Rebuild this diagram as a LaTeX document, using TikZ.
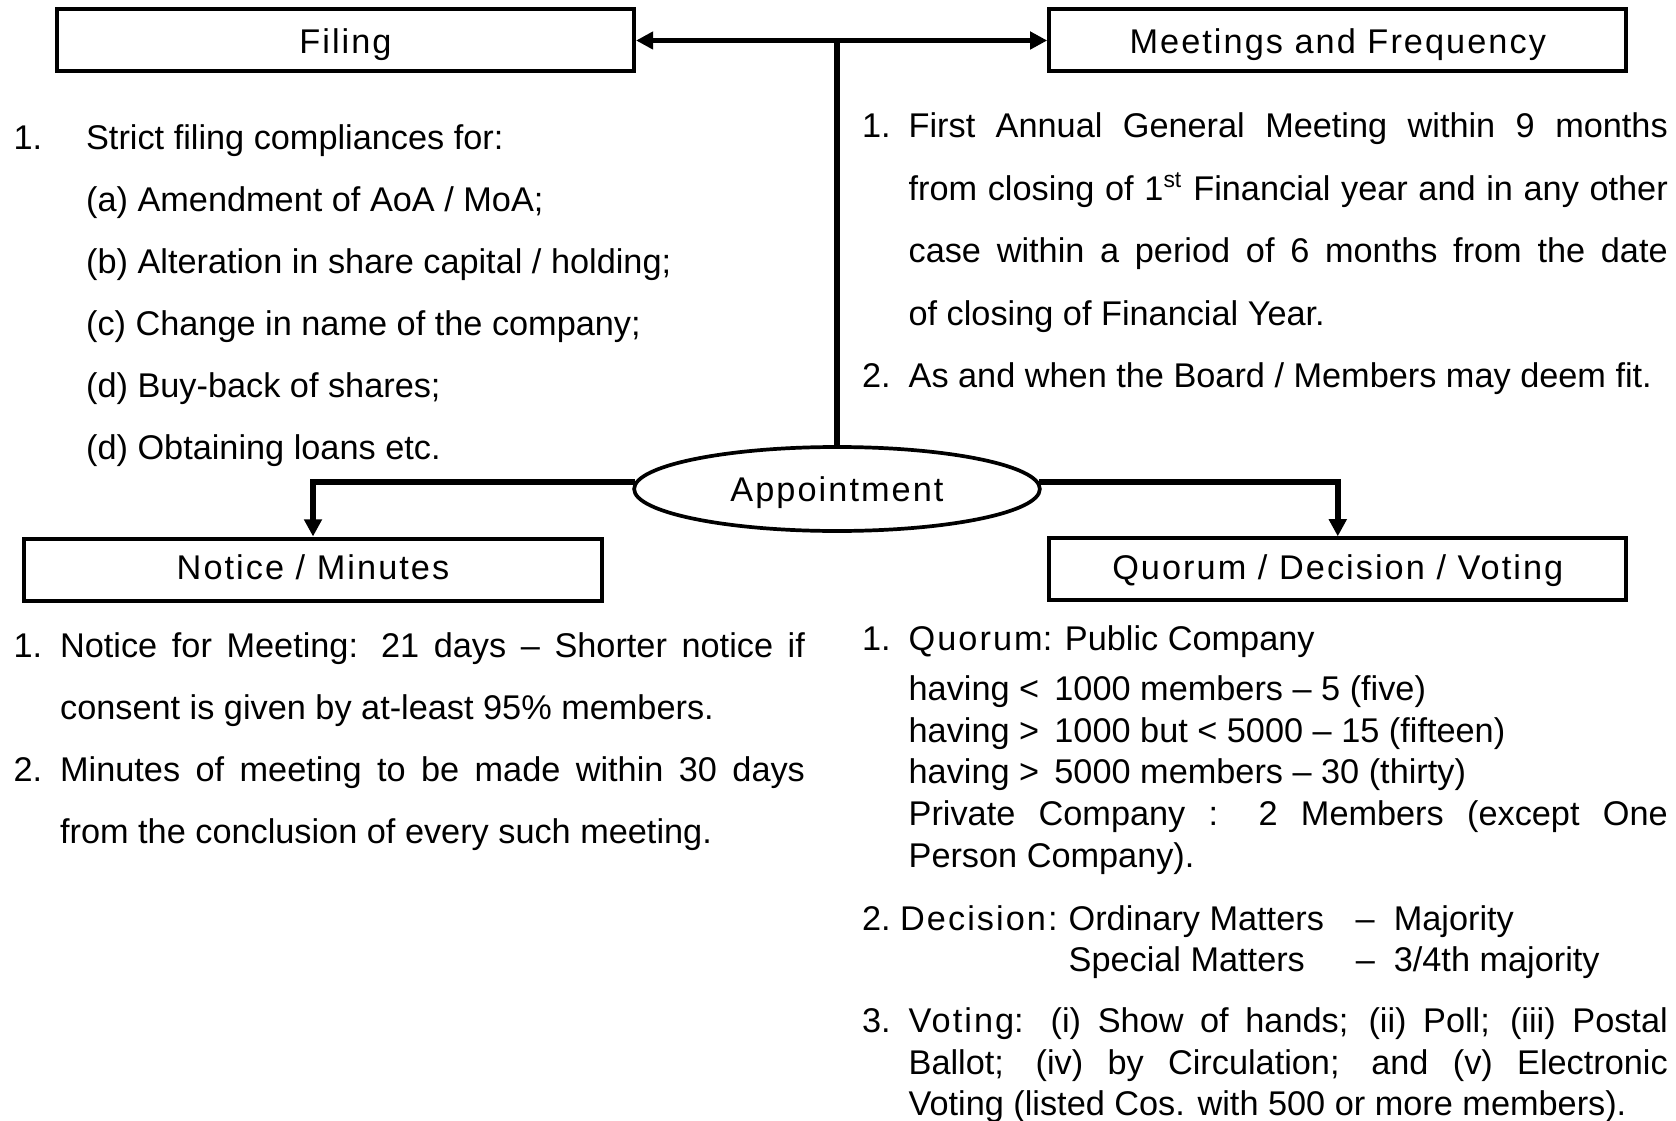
\documentclass[tikz,border=0pt]{standalone}
\usepackage{fontspec}
\setmainfont{Liberation Sans}
\newfontfamily\spacedfont{Liberation Sans}[LetterSpace=6]
\usetikzlibrary{positioning, shapes.geometric, arrows.meta}
\newlength{\numwd}\setlength{\numwd}{16.3pt}
\newcommand{\numitem}[1]{\hangindent=\numwd\hangafter=1\noindent\makebox[\numwd][l]{#1}}

\begin{document}
\begin{tikzpicture}[x=0.35pt, y=-0.35pt, >={Triangle[length=6pt, width=6pt]},
		hdr/.style={draw, line width=1.4pt, minimum width=202pt, minimum height=21.7pt, inner sep=0pt, text height=8.8pt, font=\spacedfont\fontsize{12}{14}\selectfont},
		oval/.style={ellipse, draw, line width=1.3pt, minimum width=142pt, minimum height=29.4pt, inner sep=0pt, text depth=0pt, font=\spacedfont\fontsize{12}{14}\selectfont},
		wire/.style={line width=2pt},
		txt/.style={anchor=base west, inner sep=0pt, align=justify, font=\fontsize{12}{21.7}\selectfont}]
		\useasboundingbox (0,0) rectangle (1676,1121);
		\node[oval] (appt) at (837,489) {Appointment};
		\node[hdr, text depth=0pt] (filing) at (345.5,40.5) {Filing}; \node[hdr, text depth=0pt] (meet) [right=143.9pt of filing] {Meetings and Frequency};
		\node[hdr, text depth=1.7pt] (notice) at (313,569.5) {Notice / Minutes}; \node[hdr, text depth=1.7pt] (quorum) [below=162pt of meet] {Quorum / Decision / Voting};
		\coordinate (hub) at (appt.north |- filing.east);
		\draw[wire] (appt.north) -- (hub);
		\draw[wire, <->] (filing) -- (meet);
		\draw[wire, ->] (appt.178) -| (notice.north);
		\draw[wire, ->] (appt.2) -| (quorum.north);
		\node[txt, text width=260pt] (filetxt) at (13,150) {\makebox[25.4pt][l]{1.}Strict filing compliances for:\\
			\hspace*{25.4pt}(a) Amendment of AoA / MoA;\\ \hspace*{25.4pt}(b) Alteration in share capital / holding;\\
			\hspace*{25.4pt}(c) Change in name of the company;\\ \hspace*{25.4pt}(d) Buy-back of shares;\\ \hspace*{25.4pt}(d) Obtaining loans etc.};
		\node[txt, text width=282pt, font=\fontsize{12}{21.85}\selectfont] (meettxt) at (861.5,138) {\numitem{1.}First Annual General Meeting within 9 months\linebreak from closing of 1\textsuperscript{st} Financial year and in any other\linebreak case within a period of 6 months from the date\linebreak of closing of Financial Year.\par
			\numitem{2.}As and when the Board / Members may deem fit.\par};
		\node[txt, text width=277pt] (noticetxt) at (13,657) {\numitem{1.}Notice for Meeting: 21 days – Shorter notice if\linebreak consent is given by at-least 95\% members.\par
			\numitem{2.}Minutes of meeting to be made within 30 days\linebreak from the conclusion of every such meeting.\par};
		\node[txt, text width=282pt, font=\fontsize{12}{14.6}\selectfont] (quorumtxt) at (861.5,650) {\numitem{1.}{\spacedfont Quorum}: Public Company\\[3pt]
			having < \,1000 members – 5 (five)\\ having > \,1000 but < 5000 – 15 (fifteen)\\ having > \,5000 members – 30 (thirty)\\
			Private Company : 2 Members (except One\linebreak Person Company).\par\vspace{7.5pt}
			\hangindent=\numwd\hangafter=1\noindent\makebox[72.3pt][l]{2.\ {\spacedfont Decision:}}\makebox[100.5pt][l]{Ordinary Matters}– \ Majority\\ \hspace*{56pt}\makebox[100.5pt][l]{Special Matters}– \ 3/4th majority\par\vspace{6.6pt}
			\numitem{3.}{\spacedfont Voting}: (i) Show of hands; (ii) Poll; (iii) Postal\linebreak Ballot; (iv) by Circulation; and (v) Electronic\linebreak Voting (listed Cos. with 500 or more members).\par};
	\end{tikzpicture}
\end{document}
